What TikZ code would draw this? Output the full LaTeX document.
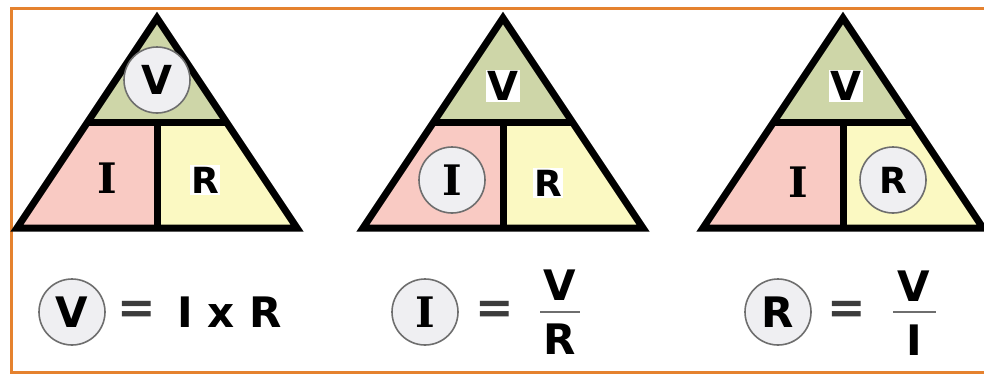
\documentclass[tikz,border=0pt]{standalone}
\usepackage{fontspec}
\setmainfont{DejaVu Sans}
\newfontfamily\slabfont{DejaVu Serif}
\usepackage{xcolor}
\usetikzlibrary{positioning}

\definecolor{vgreen}{HTML}{CED6A8}
\definecolor{ipink}{HTML}{F9CAC3}
\definecolor{ryellow}{HTML}{FBF9C2}
\definecolor{frameorange}{HTML}{E5822F}
\definecolor{ringgray}{HTML}{6E6E6E}
\definecolor{ringfill}{HTML}{EFEFF2}
\definecolor{eqgray}{HTML}{3C3C3C}

\tikzset{
  frame/.style={frameorange, line width=3pt},
  edge/.style={line width=7pt, line join=miter},
  ring/.style={circle, draw=ringgray, fill=ringfill, line width=1.6pt, minimum size=66pt, inner sep=0pt},
  vlet/.style={font=\bfseries\fontsize{40}{40}\selectfont, inner sep=1.5pt},
  rlet/.style={font=\bfseries\fontsize{36}{36}\selectfont, inner sep=1.5pt},
  ilet/.style={font=\slabfont\bfseries\fontsize{42}{42}\selectfont, inner sep=1.5pt},
  eqlet/.style={font=\bfseries\fontsize{42}{42}\selectfont, inner sep=1pt},
  eqsign/.style={font=\bfseries\fontsize{46}{46}\selectfont, text=eqgray, inner sep=0pt},
  blank/.style={fill=white},
  bar/.style={ringgray, line width=2.5pt}
}

\begin{document}
\begin{tikzpicture}[x=1pt,y=-1pt]

\useasboundingbox (0,0) rectangle (984,375);

% Frame
\draw[frame] (995,8) -- (11,8) -- (11,372) -- (995,372);

% Three triangles
\foreach \ax in {157,503,843} {
  \fill[vgreen] (\ax,18) -- (\ax-69,122) -- (\ax+69,122) -- cycle;
  \fill[ipink] (\ax-69,122) -- (\ax,122) -- (\ax,228) -- (\ax-140,228) -- cycle;
  \fill[ryellow] (\ax,122) -- (\ax+69,122) -- (\ax+140,228) -- (\ax,228) -- cycle;
  \draw[edge] (\ax,18) -- (\ax+140,228) -- (\ax-140,228) -- cycle;
  \draw[edge] (\ax-69,122) -- (\ax+69,122) (\ax,122) -- (\ax,228);
}

% Triangle 1: V circled
\node[ring, vlet] (v1) at (157,80) {V};
\node[ilet] (i1) at (107,178) {I};
\node[rlet, blank] (r1) at (205,180) {R};

% Triangle 2: I circled
\node[vlet, blank] (v2) at (503,86) {V};
\node[ring, ilet] (i2) at (452,180) {I};
\node[rlet, blank] (r2) at (548,183) {R};

% Triangle 3: R circled
\node[vlet, blank] (v3) at (846,86) {V};
\node[ilet] (i3) at (798,182) {I};
\node[ring, rlet] (r3) at (893,180) {R};

% V = I x R
\node[ring, eqlet] (fv1) at (72,312) {V};
\node[eqsign] (eq1) at (137,312) {=};
\node[eqlet, anchor=west] (ixr) at (176,312) {I x R};

% I = V / R
\node[ring, ilet] (fi2) at (425,312) {I};
\node[eqsign] (eq2) at (495,312) {=};
\node[eqlet] (num2) at (560,285) {V};
\node[eqlet] (den2) at (560,339) {R};
\draw[bar] (540,312) -- (580,312);

% R = V / I
\node[ring, eqlet] (fr3) at (778,312) {R};
\node[eqsign] (eq3) at (847,312) {=};
\node[eqlet] (num3) at (914,286) {V};
\node[eqlet] (den3) at (914,340) {I};
\draw[bar] (893,312) -- (936,312);

\end{tikzpicture}
\end{document}
